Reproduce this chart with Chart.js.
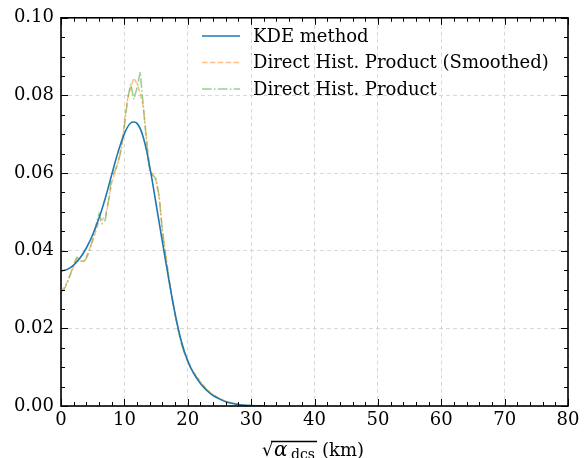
<!DOCTYPE html>
<html>
<head>
<meta charset="utf-8">
<script src="https://cdn.jsdelivr.net/npm/chart.js@4/dist/chart.umd.min.js"></script>
<style>
  html, body { margin: 0; padding: 0; background: #fff; }
</style>
</head>
<body>
<canvas id="chart" width="585" height="458"></canvas>
<script>
// KDE curve
const kdeX = [0, 1, 2, 3, 4, 5, 6, 7, 8, 9, 10, 11, 12, 13, 14, 15, 16, 17, 18, 19, 20,
  21, 22, 23, 24, 25, 26, 27, 28, 29, 30, 31, 32]
const kdeY = [0.0348, 0.0352, 0.0363, 0.0381, 0.0407, 0.0441, 0.0484, 0.0536, 0.0596, 0.0654,
  0.0701, 0.0729, 0.0728, 0.0691, 0.0616, 0.0521, 0.0423, 0.0327, 0.0238, 0.0166, 0.0116,
  0.0082, 0.0058, 0.0040, 0.0027, 0.0018, 0.0011, 0.0007, 0.0004, 0.0002, 0.0001, 0.00005, 0]

// histogram product curves
const histX = [0, 0.5, 1, 1.5, 2, 2.5, 3, 3.5, 4, 4.5, 5, 5.5, 6, 6.5, 7, 7.5, 8, 8.5, 9, 9.5,
  10, 10.5, 11, 11.5, 12, 12.5, 13, 13.5, 14, 14.5, 15, 15.5, 16, 16.5, 17, 17.5, 18, 18.5,
  19, 19.5, 20, 20.5, 21, 21.5, 22, 23, 24, 25, 26, 27, 28, 29, 30]
const smoothY = [0.0295, 0.0305, 0.0320, 0.0340, 0.0360, 0.0378, 0.0375, 0.0372, 0.0385, 0.0405,
  0.0425, 0.0450, 0.0475, 0.0480, 0.0490, 0.0525, 0.0575, 0.0600, 0.0630, 0.0665,
  0.0730, 0.0790, 0.0820, 0.0845, 0.0830, 0.0805, 0.0770, 0.0690, 0.0610, 0.0595,
  0.0580, 0.0535, 0.0455, 0.0395, 0.0335, 0.0282, 0.0236, 0.0196, 0.0160, 0.0134,
  0.0114, 0.0097, 0.0084, 0.0074, 0.0062, 0.0042, 0.0029, 0.0019, 0.0012, 0.0007,
  0.0004, 0.0002, 0.0001]
const histY = [0.0295, 0.0300, 0.0318, 0.0340, 0.0365, 0.0383, 0.0378, 0.0370, 0.0380, 0.0400,
  0.0430, 0.0465, 0.0495, 0.0470, 0.0480, 0.0530, 0.0590, 0.0605, 0.0625, 0.0660,
  0.0720, 0.0790, 0.0830, 0.0790, 0.0820, 0.0860, 0.0770, 0.0680, 0.0600, 0.0595,
  0.0585, 0.0540, 0.0450, 0.0390, 0.0330, 0.0280, 0.0235, 0.0195, 0.0160, 0.0135,
  0.0117, 0.0098, 0.0085, 0.0072, 0.0062, 0.0042, 0.0029, 0.0019, 0.0012, 0.0007,
  0.0004, 0.0002, 0.0001]

const xTicks = [0, 10, 20, 30, 40, 50, 60, 70, 80]
const yTicks = [0, 0.02, 0.04, 0.06, 0.08, 0.10]

const FONT = "'DejaVu Serif', 'Liberation Serif', serif"

const toPoints = (xs, ys) => xs.map((x, i) => ({ x: x, y: ys[i] }))

// inward ticks on all four sides + black frame
const frameTicks = {
  id: 'frameTicks',
  afterDatasetsDraw(chart) {
    const { ctx, chartArea: a, scales: { x, y } } = chart
    ctx.save()
    ctx.strokeStyle = '#000'
    ctx.lineWidth = 1
    const line = (x1, y1, x2, y2) => {
      ctx.beginPath(); ctx.moveTo(x1, y1); ctx.lineTo(x2, y2); ctx.stroke()
    }
    for (let v = 0; v <= 80; v += 2) {
      const len = v % 10 === 0 ? 7 : 4
      const px = Math.round(x.getPixelForValue(v)) + 0.5
      line(px, a.bottom, px, a.bottom - len)
      line(px, a.top, px, a.top + len)
    }
    for (let k = 0; k <= 20; k++) {
      const len = k % 4 === 0 ? 7 : 4
      const py = Math.round(y.getPixelForValue(k * 0.005)) + 0.5
      line(a.left, py, a.left + len, py)
      line(a.right, py, a.right - len, py)
    }
    ctx.lineWidth = 1.6
    ctx.strokeRect(a.left, a.top, a.right - a.left, a.bottom - a.top)
    ctx.restore()
  }
}

// legend without frame, top middle of the plot
const lineLegend = {
  id: 'lineLegend',
  afterDraw(chart) {
    const { ctx } = chart
    ctx.save()
    ctx.font = '18px ' + FONT
    ctx.textBaseline = 'middle'
    ctx.fillStyle = '#000'
    chart.data.datasets.forEach((ds, i) => {
      const yy = 36 + i * 26.5
      ctx.strokeStyle = ds.borderColor
      ctx.lineWidth = ds.borderWidth
      ctx.setLineDash(ds.borderDash || [])
      ctx.beginPath(); ctx.moveTo(202, yy); ctx.lineTo(240, yy); ctx.stroke()
      ctx.setLineDash([])
      ctx.fillText(ds.label, 253, yy + 1)
    })
    ctx.restore()
  }
}

// x axis title: sqrt(alpha_dcs) (km)
const xTitle = {
  id: 'xTitle',
  afterDraw(chart) {
    const { ctx } = chart
    ctx.save()
    ctx.fillStyle = '#000'
    ctx.strokeStyle = '#000'
    ctx.textBaseline = 'alphabetic'
    const base = 456
    ctx.font = '18px ' + FONT
    ctx.fillText('√', 262, base)
    ctx.font = 'italic 20px ' + FONT
    ctx.fillText('α', 274, base)
    ctx.font = '14px ' + FONT
    ctx.fillText('dcs', 291, base + 3)
    ctx.lineWidth = 1.3
    ctx.beginPath(); ctx.moveTo(271, 441.5); ctx.lineTo(317, 441.5); ctx.stroke()
    ctx.font = '18px ' + FONT
    ctx.fillText('(km)', 322, base)
    ctx.restore()
  }
}

const ctx = document.getElementById('chart').getContext('2d')

new Chart(ctx, {
  type: 'line',
  data: {
    datasets: [
      {
        label: 'KDE method',
        data: toPoints(kdeX, kdeY),
        borderColor: '#1f77b4',
        borderWidth: 1.6,
        pointRadius: 0,
        tension: 0.4,
      },
      {
        label: 'Direct Hist. Product (Smoothed)',
        data: toPoints(histX, smoothY),
        borderColor: 'rgba(255, 127, 14, 0.5)',
        borderWidth: 1.5,
        borderDash: [5.5, 2.4],
        pointRadius: 0,
        tension: 0,
      },
      {
        label: 'Direct Hist. Product',
        data: toPoints(histX, histY),
        borderColor: 'rgba(44, 160, 44, 0.5)',
        borderWidth: 1.5,
        borderDash: [9.6, 2.4, 1.5, 2.4],
        pointRadius: 0,
        tension: 0,
      },
    ]
  },
  options: {
    responsive: false,
    animation: false,
    devicePixelRatio: 1,
    layout: { padding: { top: 11, right: 17, left: 0, bottom: 0 } },
    plugins: { legend: { display: false }, tooltip: { enabled: false } },
    scales: {
      x: {
        type: 'linear',
        min: 0,
        max: 80,
        afterFit: s => { s.height = 52 },
        afterBuildTicks: s => { s.ticks = xTicks.map(v => ({ value: v })) },
        ticks: { font: { family: FONT, size: 18 }, color: '#000', padding: 4, maxRotation: 0 },
        grid: { color: '#cfcfcf', lineWidth: 0.8, drawTicks: false },
        border: { display: false, dash: [4, 3] },
      },
      y: {
        min: 0,
        max: 0.1,
        afterFit: s => { s.width = 61 },
        afterBuildTicks: s => { s.ticks = yTicks.map(v => ({ value: v })) },
        ticks: {
          font: { family: FONT, size: 18 }, color: '#000', padding: 7,
          callback: v => v.toFixed(2),
        },
        grid: { color: '#cfcfcf', lineWidth: 0.8, drawTicks: false },
        border: { display: false, dash: [4, 3] },
      }
    }
  },
  plugins: [frameTicks, lineLegend, xTitle]
})
</script>
</body>
</html>
